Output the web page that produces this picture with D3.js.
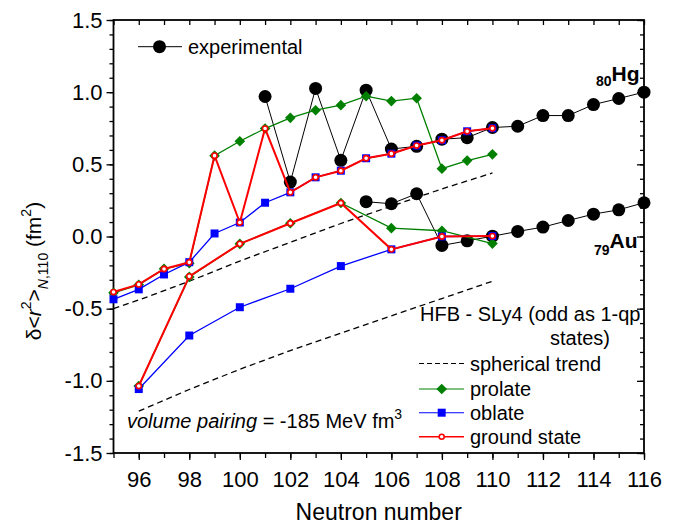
<!DOCTYPE html>
<html>
<head>
<meta charset="utf-8">
<script src="https://cdn.jsdelivr.net/npm/d3@7"></script>
<style>
  body { margin: 0; background: #fff; }
  svg { font-family: "Liberation Sans", Arial, sans-serif; }
</style>
</head>
<body>
<svg id="chart" width="689" height="527"></svg>
<script>
// neutron numbers and values
var hgN = [95, 96, 97, 98, 99, 100, 101, 102, 103, 104, 105, 106, 107, 108, 109, 110];
var hgProlate = [-0.39, -0.335, -0.224, -0.185, 0.56, 0.66, 0.748, 0.822, 0.875, 0.91, 0.972, 0.938, 0.958, 0.47, 0.526, 0.569];
var hgOblate = [-0.435, -0.366, -0.263, -0.178, 0.021, 0.097, 0.234, 0.306, 0.41, 0.456, 0.542, 0.574, 0.63, 0.667, 0.729, 0.75];
var hgGround = [-0.385, -0.332, -0.225, -0.179, 0.56, 0.097, 0.748, 0.306, 0.41, 0.456, 0.542, 0.574, 0.63, 0.667, 0.729, 0.75];

var auN = [96, 98, 100, 102, 104, 106, 108, 110];
var auProlate = [-1.036, -0.28, -0.051, 0.092, 0.232, 0.058, 0.04, -0.049];
var auOblate = [-1.057, -0.686, -0.49, -0.362, -0.205, -0.089, 0.0, 0.003];
var auGround = [-1.036, -0.276, -0.051, 0.092, 0.232, -0.089, 0.0, 0.003];

var sphUpperN = [95, 96, 98, 100, 102, 104, 106, 108, 110];
var sphUpper = [-0.50, -0.44, -0.31, -0.17, -0.04, 0.09, 0.21, 0.33, 0.44];
var sphLowerN = [96, 98, 100, 102, 104, 106, 108, 110];
var sphLower = [-1.21, -1.06, -0.92, -0.79, -0.67, -0.55, -0.43, -0.31];

var expHgN = [101, 102, 103, 104, 105, 106, 107, 108, 109, 110, 111, 112, 113, 114, 115, 116];
var expHg = [0.97, 0.377, 1.026, 0.528, 1.014, 0.606, 0.625, 0.674, 0.685, 0.755, 0.764, 0.838, 0.838, 0.914, 0.956, 1.0];
var expAuN = [105, 106, 107, 108, 109, 110, 111, 112, 113, 114, 115, 116];
var expAu = [0.241, 0.227, 0.296, -0.062, -0.03, 0.002, 0.035, 0.065, 0.111, 0.155, 0.185, 0.234];

var xTicks = [96, 98, 100, 102, 104, 106, 108, 110, 112, 114, 116];
var yTicks = [-1.5, -1.0, -0.5, 0.0, 0.5, 1.0, 1.5];

var svg = d3.select("#chart");
var x = d3.scaleLinear().domain([95, 116]).range([113.5, 644]);
var y = d3.scaleLinear().domain([-1.5, 1.5]).range([453, 20]);

function pts(ns, vs) { return ns.map(function (n, i) { return [n, vs[i]]; }); }
var line = d3.line().x(function (d) { return x(d[0]); }).y(function (d) { return y(d[1]); });

// axes
var minorX = d3.range(95, 117, 1), minorY = d3.range(-1.5, 1.51, 0.1);
svg.append("g").attr("transform", "translate(0,453)")
  .call(d3.axisBottom(x).tickValues(minorX).tickSize(5).tickFormat(""));
svg.append("g").attr("transform", "translate(0,453)")
  .call(d3.axisBottom(x).tickValues(xTicks).tickSize(7).tickPadding(11).tickFormat(d3.format("d")))
  .selectAll("text").attr("font-size", 22).attr("fill", "#000");
svg.append("g").attr("transform", "translate(113.5,0)")
  .call(d3.axisLeft(y).tickValues(minorY).tickSize(4).tickFormat(""));
svg.append("g").attr("transform", "translate(113.5,0)")
  .call(d3.axisLeft(y).tickValues(yTicks).tickSize(7).tickPadding(4).tickFormat(function (d) { return d.toFixed(1); }))
  .selectAll("text").attr("font-size", 22).attr("fill", "#000");
svg.append("g").attr("transform", "translate(0,20)")
  .call(d3.axisBottom(x).tickValues(minorX).tickSize(5).tickFormat(""));
svg.append("g").attr("transform", "translate(644,0)")
  .call(d3.axisLeft(y).tickValues(minorY).tickSize(4).tickFormat(""));
svg.append("g").attr("transform", "translate(644,0)")
  .call(d3.axisLeft(y).tickValues(yTicks).tickSize(7).tickFormat(""));
svg.selectAll(".domain").remove();
svg.selectAll(".tick line").attr("stroke", "#000").attr("stroke-width", 1.3);
svg.append("rect").attr("x", 113.5).attr("y", 20).attr("width", 644 - 113.5).attr("height", 433)
  .attr("fill", "none").attr("stroke", "#000").attr("stroke-width", 1.8);

// axis titles
svg.append("text").attr("x", 378.7).attr("y", 520).attr("text-anchor", "middle")
  .attr("font-size", 23).text("Neutron number");
var yl = svg.append("text").attr("transform", "translate(41,271) rotate(-90)")
  .attr("text-anchor", "middle").attr("font-size", 21);
yl.append("tspan").text("δ<");
yl.append("tspan").attr("font-style", "italic").text("r");
yl.append("tspan").attr("font-size", 14).attr("dy", -10).text("2");
yl.append("tspan").attr("dy", 10).text(">");
yl.append("tspan").attr("font-size", 14).attr("dy", 7).attr("font-style", "italic").text("N");
yl.append("tspan").attr("font-size", 14).text(",110");
yl.append("tspan").attr("dy", -7).text(" (fm");
yl.append("tspan").attr("font-size", 14).attr("dy", -10).text("2");
yl.append("tspan").attr("dy", 10).text(")");

// spherical trends
[pts(sphUpperN, sphUpper), pts(sphLowerN, sphLower)].forEach(function (s) {
  svg.append("path").attr("d", line(s)).attr("fill", "none").attr("stroke", "#000")
    .attr("stroke-width", 1.3).attr("stroke-dasharray", "6,4");
});

// experimental
function drawExp(ns, vs) {
  var p = pts(ns, vs);
  svg.append("path").attr("d", line(p)).attr("fill", "none").attr("stroke", "#000").attr("stroke-width", 1);
  svg.append("g").selectAll("circle").data(p).enter().append("circle")
    .attr("cx", function (d) { return x(d[0]); }).attr("cy", function (d) { return y(d[1]); })
    .attr("r", 6.5).attr("fill", "#000");
}
drawExp(expHgN, expHg);
drawExp(expAuN, expAu);

var diamond = d3.symbol().type(d3.symbolDiamond2).size(72);
var square = d3.symbol().type(d3.symbolSquare).size(64);

function drawSeries(ns, vs, color, width, kind) {
  var p = pts(ns, vs);
  svg.append("path").attr("d", line(p)).attr("fill", "none").attr("stroke", color).attr("stroke-width", width);
  var g = svg.append("g");
  if (kind === "circle") {
    g.selectAll("circle").data(p).enter().append("circle")
      .attr("cx", function (d) { return x(d[0]); }).attr("cy", function (d) { return y(d[1]); })
      .attr("r", 2.6).attr("fill", "#fff").attr("stroke", color).attr("stroke-width", 1.6);
  } else {
    g.selectAll("path").data(p).enter().append("path")
      .attr("transform", function (d) { return "translate(" + x(d[0]) + "," + y(d[1]) + ")"; })
      .attr("d", kind === "diamond" ? diamond : square).attr("fill", color);
  }
}
drawSeries(hgN, hgProlate, "#008000", 1.3, "diamond");
drawSeries(auN, auProlate, "#008000", 1.3, "diamond");
drawSeries(hgN, hgOblate, "#0000ff", 1.3, "square");
drawSeries(auN, auOblate, "#0000ff", 1.3, "square");
drawSeries(hgN, hgGround, "#ff0000", 2, "circle");
drawSeries(auN, auGround, "#ff0000", 2, "circle");

// element labels
var hg = svg.append("text").attr("x", 596).attr("y", 86).attr("font-weight", "bold");
hg.append("tspan").attr("font-size", 14).text("80");
hg.append("tspan").attr("font-size", 21).attr("dy", -5).text("Hg");
var au = svg.append("text").attr("x", 594).attr("y", 255).attr("font-weight", "bold");
au.append("tspan").attr("font-size", 14).text("79");
au.append("tspan").attr("font-size", 21).attr("dy", -7).text("Au");

// top-left legend
svg.append("line").attr("x1", 138).attr("x2", 182).attr("y1", 46.7).attr("y2", 46.7).attr("stroke", "#000");
svg.append("circle").attr("cx", 159.5).attr("cy", 46.7).attr("r", 6.5).attr("fill", "#000");
svg.append("text").attr("x", 188).attr("y", 53.5).attr("font-size", 20).text("experimental");

// bottom-right legend
svg.append("text").attr("x", 420).attr("y", 321).attr("font-size", 20).text("HFB - SLy4 (odd as 1-qp");
svg.append("text").attr("x", 610).attr("y", 345).attr("font-size", 20).attr("text-anchor", "end").text("states)");
var leg = [
  { label: "spherical trend", color: "#000", kind: "dash", y: 363.5 },
  { label: "prolate", color: "#008000", kind: "diamond", y: 389 },
  { label: "oblate", color: "#0000ff", kind: "square", y: 412.7 },
  { label: "ground state", color: "#ff0000", kind: "circle", y: 436.7 }
];
leg.forEach(function (l) {
  svg.append("line").attr("x1", 419).attr("x2", 464).attr("y1", l.y).attr("y2", l.y)
    .attr("stroke", l.color).attr("stroke-width", l.kind === "circle" ? 1.5 : 1.1)
    .attr("stroke-dasharray", l.kind === "dash" ? "5,3" : null);
  if (l.kind === "diamond") {
    svg.append("path").attr("transform", "translate(441.7," + l.y + ")").attr("d", diamond).attr("fill", l.color);
  } else if (l.kind === "square") {
    svg.append("path").attr("transform", "translate(441.7," + l.y + ")").attr("d", square).attr("fill", l.color);
  } else if (l.kind === "circle") {
    svg.append("circle").attr("cx", 441.7).attr("cy", l.y).attr("r", 2.5).attr("fill", "#fff")
      .attr("stroke", l.color).attr("stroke-width", 1.5);
  }
  svg.append("text").attr("x", 470).attr("y", l.y + 7).attr("font-size", 20).text(l.label);
});

// pairing note
var vp = svg.append("text").attr("x", 127).attr("y", 428).attr("font-size", 20);
vp.append("tspan").attr("font-style", "italic").text("volume pairing");
vp.append("tspan").text(" = -185 MeV fm");
vp.append("tspan").attr("font-size", 14).attr("dy", -9).text("3");
</script>
</body>
</html>
